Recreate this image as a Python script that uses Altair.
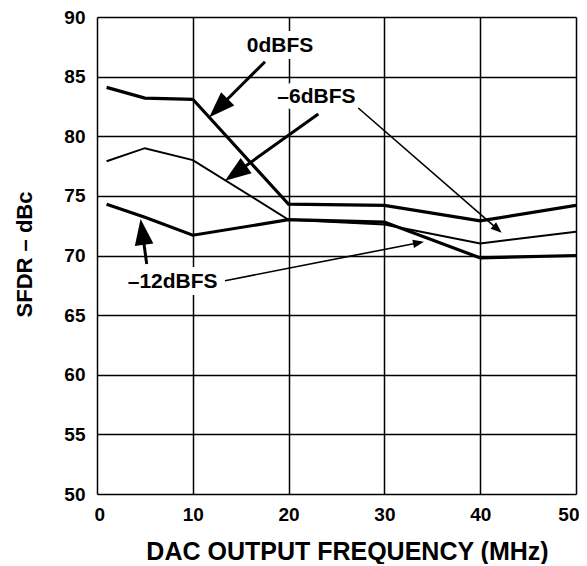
import math
import altair as alt
import pandas as pd

# ---- data ----
freq = [1, 5, 10, 20, 30, 40, 50]
sfdr_0dbfs = [84.1, 83.2, 83.1, 74.3, 74.2, 72.9, 74.2]
sfdr_6dbfs = [77.9, 79.0, 78.0, 73.0, 72.6, 71.0, 72.0]
sfdr_12dbfs = [74.3, 73.2, 71.7, 73.0, 72.8, 69.8, 70.0]

x_ticks = [0, 10, 20, 30, 40, 50]
y_ticks = [50, 55, 60, 65, 70, 75, 80, 85, 90]

# annotation labels (data coordinates)
label_text = ["0dBFS", "\u20136dBFS", "\u201312dBFS"]
label_x = [19.1, 22.9, 7.9]
label_y = [87.6, 83.3, 67.8]

# annotation arrows (data coordinates), heavy = big filled head
arrow_tail_x = [17.54, 23.10, 27.27, 5.19, 13.36]
arrow_tail_y = [86.25, 81.87, 82.37, 69.29, 67.89]
arrow_tip_x = [11.72, 13.36, 42.24, 4.55, 34.13]
arrow_tip_y = [81.59, 76.27, 71.91, 73.06, 71.16]
arrow_heavy = [True, True, False, True, False]

# ---- layout ----
W, H = 479, 477
XMIN, XMAX, YMIN, YMAX = 0, 50, 50, 90
FONT = "Liberation Sans"
px_per_x = W / (XMAX - XMIN)
px_per_y = H / (YMAX - YMIN)

xs = alt.Scale(domain=[XMIN, XMAX], nice=False, zero=False)
ys = alt.Scale(domain=[YMIN, YMAX], nice=False, zero=False)

lines = pd.DataFrame({
    "freq": freq * 3,
    "sfdr": sfdr_0dbfs + sfdr_6dbfs + sfdr_12dbfs,
    "series": ["0dBFS"] * 7 + ["-6dBFS"] * 7 + ["-12dBFS"] * 7,
})

x_enc = alt.X("freq:Q", scale=xs, axis=alt.Axis(
    values=x_ticks, title="DAC OUTPUT FREQUENCY (MHz)", grid=True,
    gridColor="black", gridWidth=1.5, gridOpacity=1, domain=False,
    ticks=False, labelFlush=True, labelFlushOffset=3, labelPadding=11,
    labelFontSize=19,
    labelFont=FONT, labelFontWeight="bold", labelColor="black",
    titleFont=FONT, titleFontSize=25, titleFontWeight="bold", titleColor="black",
    titleX=250, titleY=65, titleBaseline="alphabetic", titleAlign="center"))
y_enc = alt.Y("sfdr:Q", scale=ys, axis=alt.Axis(
    values=y_ticks, title="SFDR \u2013 dBc", grid=True,
    gridColor="black", gridWidth=1.5, gridOpacity=1, domain=False,
    ticks=False, labelFlush=False, labelPadding=12, labelFontSize=19,
    labelFont=FONT, labelFontWeight="bold", labelColor="black",
    titleFont=FONT, titleFontSize=22, titleFontWeight="bold", titleColor="black",
    titleAngle=270, titleX=-66, titleY=237, titleBaseline="alphabetic",
    titleAlign="center"))

base_lines = []
for name, w in [("0dBFS", 3.2), ("-6dBFS", 2.0), ("-12dBFS", 3.2)]:
    base_lines.append(
        alt.Chart(lines[lines.series == name]).mark_line(
            color="black", strokeWidth=w, strokeJoin="miter", clip=True
        ).encode(x=x_enc, y=y_enc, order="freq:Q")
    )

# labels
labels = pd.DataFrame({"t": label_text, "x": label_x, "y": label_y})
halo = alt.Chart(labels).mark_text(
    font=FONT, fontSize=21, fontWeight="bold", color="white", stroke="white",
    strokeWidth=14, strokeJoin="round", align="center", baseline="middle"
).encode(x=alt.X("x:Q", scale=xs), y=alt.Y("y:Q", scale=ys), text="t:N")
text = alt.Chart(labels).mark_text(
    font=FONT, fontSize=21, fontWeight="bold", color="black",
    align="center", baseline="middle"
).encode(x=alt.X("x:Q", scale=xs), y=alt.Y("y:Q", scale=ys), text="t:N")

# arrows
rows_shaft = []
rows_head = []
for tx, ty, hx, hy, heavy in zip(arrow_tail_x, arrow_tail_y, arrow_tip_x,
                                 arrow_tip_y, arrow_heavy):
    dxp = (hx - tx) * px_per_x
    dyp = -(hy - ty) * px_per_y  # screen y down
    ang = math.degrees(math.atan2(dxp, -dyp)) % 360
    L = 26 if heavy else 11
    length = math.hypot(dxp, dyp)
    back = 0.6 * L / length
    sx2 = hx - (hx - tx) * back
    sy2 = hy - (hy - ty) * back
    rows_shaft.append({"x": tx, "y": ty, "x2": sx2, "y2": sy2, "heavy": heavy})
    rows_head.append({"x": hx, "y": hy, "ang": ang, "heavy": heavy})
shafts = pd.DataFrame(rows_shaft)
heads = pd.DataFrame(rows_head)

arrow_layers = []
for heavy, sw, L, hw in [(True, 3.0, 26, 0.36), (False, 1.6, 11, 0.38)]:
    arrow_layers.append(
        alt.Chart(shafts[shafts.heavy == heavy]).mark_rule(
            color="black", strokeWidth=sw
        ).encode(x=alt.X("x:Q", scale=xs), y=alt.Y("y:Q", scale=ys),
                 x2="x2:Q", y2="y2:Q")
    )
    arrow_layers.append(
        alt.Chart(heads[heads.heavy == heavy]).mark_point(
            shape=f"M0,0L{hw},1L-{hw},1Z", filled=True, color="black",
            opacity=1, size=(2 * L) ** 2, strokeWidth=0
        ).encode(x=alt.X("x:Q", scale=xs), y=alt.Y("y:Q", scale=ys),
                 angle=alt.Angle("ang:Q", scale=None))
    )

chart = alt.layer(halo, *base_lines, *arrow_layers, text).properties(
    width=W, height=H,
    autosize=alt.AutoSizeParams(type="none"),
    padding={"left": 89, "top": 9, "right": 3, "bottom": 70},
).configure_view(
    stroke="black", strokeWidth=3
).configure(background="white")

chart.save("out.html", embed_options={"renderer": "svg", "actions": False})
